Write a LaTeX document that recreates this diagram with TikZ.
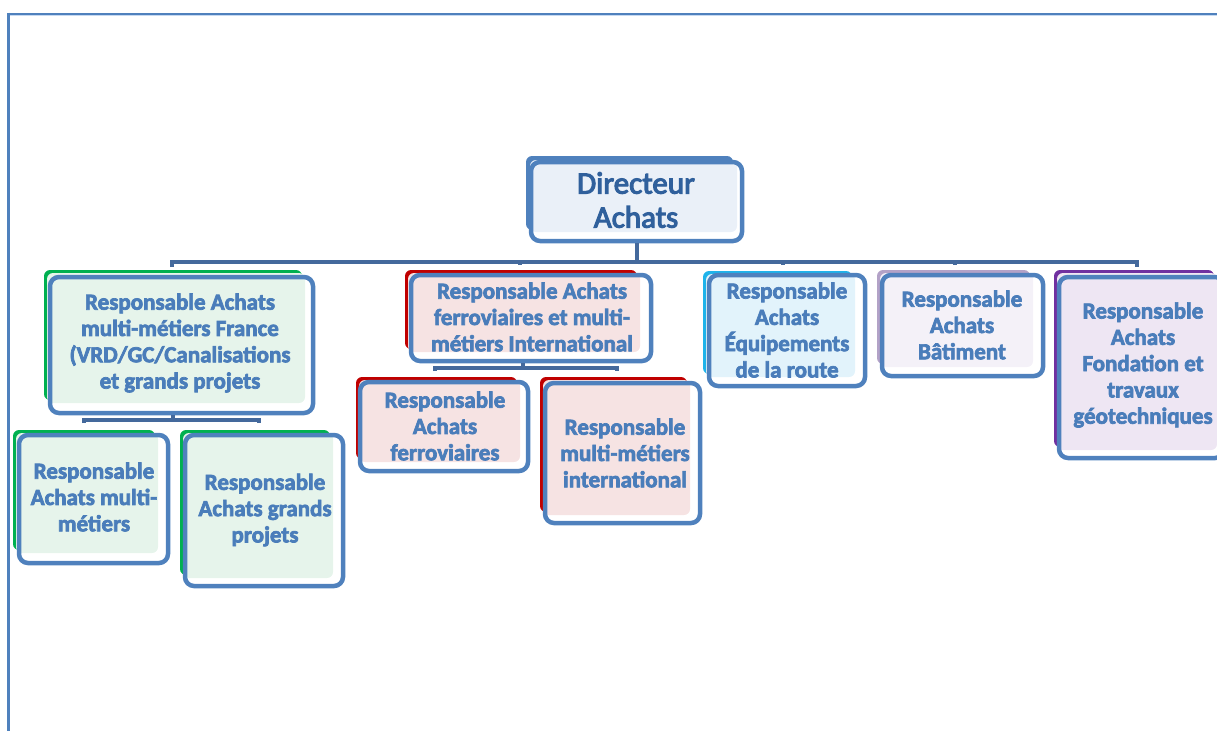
\documentclass[tikz,border=0pt]{standalone}
\usepackage{fontspec}
\setmainfont{Carlito}
\usetikzlibrary{fit}
\definecolor{OutBlue}{HTML}{4F81BD}
\definecolor{BusBlue}{HTML}{44699C}
\definecolor{TxtBlue}{HTML}{4A7DBA}
\definecolor{DirTxt}{HTML}{30609C}
\definecolor{GreenE}{HTML}{00B050}
\definecolor{GreenF}{HTML}{E6F4EB}
\definecolor{RedE}{HTML}{C00000}
\definecolor{RedF}{HTML}{F6E3E3}
\definecolor{CyanE}{HTML}{1FB3EA}
\definecolor{CyanF}{HTML}{E2F3FB}
\definecolor{LavE}{HTML}{B3A2C7}
\definecolor{LavF}{HTML}{F4F1F8}
\definecolor{PurE}{HTML}{7030A0}
\definecolor{PurF}{HTML}{EEE6F3}
\definecolor{DirF}{HTML}{EAF0F8}
\definecolor{FrameL}{HTML}{C6D9F1}
\begin{document}
\begin{tikzpicture}[x=1pt,y=-1pt,
 outl/.style={draw=OutBlue, line width=4.5pt, rounded corners=9pt, inner sep=0pt},
 heavy/.style={execute at begin node={\special{pdf:literal direct 2 Tr #1 w}},
               execute at end node={\special{pdf:literal direct 0 Tr}}},
 txt/.style={text=TxtBlue, font=\fontsize{23}{26.3}\selectfont\bfseries, align=center, inner sep=0pt, heavy=0.7},
 dtxt/.style={text=DirTxt, font=\fontsize{31}{34}\selectfont, align=center, inner sep=0pt, heavy=1.1},
 bus/.style={draw=BusBlue, line width=4pt},
 ef/.style={rounded corners=6pt}
]
\useasboundingbox (0,0) rectangle (1217,731);
% frame
\draw[FrameL, line width=1.5pt] (9,15.5) -- (1217,15.5);
\draw[OutBlue, line width=2pt] (7.5,13.5) -- (1217,13.5);
\draw[OutBlue, line width=2.5pt] (8.5,12.5) -- (8.5,731);

% Director
\fill[OutBlue, ef] (526,156) rectangle (733,230);
\fill[DirF, ef] (530,160) rectangle (737,232);
\node[outl, fit={(531,162) (742,241)}] (d) {};
\node[dtxt] (dt) at (636,200) {Directeur\\Achats};

% Box 1 (green)
\fill[GreenE, ef] (44,270) rectangle (302,400);
\fill[GreenF, ef] (47,273) rectangle (305,403);
\node[outl, fit={(50,277) (313,413)}] (b1) {};
\node[txt] (b1t) at (180,343) {Responsable Achats\\multi-métiers France\\(VRD/GC/Canalisations\\et grands projets};

% Box 1a
\fill[GreenE, ef] (13,430) rectangle (155,550);
\fill[GreenF, ef] (16,433) rectangle (158,553);
\node[outl, fit={(19,435) (168,563)}] (b1a) {};
\node[txt] (b1at) at (94,497) {Responsable\\Achats multi-\\métiers};

% Box 1b
\fill[GreenE, ef] (180,430) rectangle (330,575);
\fill[GreenF, ef] (183,433) rectangle (333,578);
\node[outl, fit={(185,435) (343,586)}] (b1b) {};
\node[txt] (b1bt) at (265,510) {Responsable\\Achats grands\\projets};

% Box 2 (red)
\fill[RedE, ef] (405,270) rectangle (637,349);
\fill[RedF, ef] (408,273) rectangle (640,352);
\node[outl, fit={(411,275) (651,361)}] (b2) {};
\node[txt] (b2t) at (532,317) {Responsable Achats\\ferroviaires et multi-\\métiers International};

% Box 2a
\fill[RedE, ef] (356,377) rectangle (517,459);
\fill[RedF, ef] (359,380) rectangle (520,462);
\node[outl, fit={(360,382) (528,471)}] (b2a) {};
\node[txt] (b2at) at (445,426) {Responsable\\Achats\\ferroviaires};

% Box 2b
\fill[RedE, ef] (540,377) rectangle (687,512);
\fill[RedF, ef] (543,380) rectangle (690,515);
\node[outl, fit={(545,383) (700,523)}] (b2b) {};
\node[txt] (b2bt) at (625,453) {Responsable\\multi-métiers\\international};

% Box 3 (cyan)
\fill[CyanE, ef] (703,271) rectangle (852,374);
\fill[CyanF, ef] (706,274) rectangle (855,377);
\node[outl, fit={(709,275) (865,386)}] (b3) {};
\node[txt] (b3t) at (787,330) {Responsable\\Achats\\Équipements\\de la route};

% Box 4 (lavender)
\fill[LavE, ef] (877,270) rectangle (1030,364);
\fill[LavF, ef] (880,273) rectangle (1033,367);
\node[outl, fit={(882,275) (1043,376)}] (b4) {};
\node[txt] (b4t) at (962,325) {Responsable\\Achats\\Bâtiment};

% Box 5 (purple)
\fill[PurE, ef] (1054,270) rectangle (1214,447);
\fill[PurF, ef] (1057,273) rectangle (1217,450);
\node[outl, fit={(1059,277) (1224,458)}] (b5) {};
\node[txt] (b5t) at (1143,365) {Responsable\\Achats\\Fondation et\\travaux\\géotechniques};

% main bus
\coordinate (busL) at (172,262);
\coordinate (busR) at (1137,262);
\draw[bus] (d.south) -- (d.south |- busL);
\draw[bus] ([yshift=-5pt]busL) -- (busL) -- (busR) -- ([yshift=-5pt]busR);
\draw[bus] (520,262) -- (520,265);
\draw[bus] (783,262) -- (783,265);
\draw[bus] (955,262) -- (955,265);

% sub bus 1
\coordinate (s1L) at (84,420);
\coordinate (s1M) at (173,420);
\coordinate (s1R) at (259,420);
\draw[bus] (b1.south -| s1M) -- (s1M);
\draw[bus] ([yshift=-3pt]s1L) -- (s1L) -- (s1R) -- ([yshift=-3pt]s1R);

% sub bus 2
\coordinate (s2L) at (435,368);
\coordinate (s2M) at (523,368);
\coordinate (s2R) at (617,368);
\draw[bus] (b2.south -| s2M) -- (s2M);
\draw[bus] ([yshift=-3pt]s2L) -- (s2L) -- (s2R) -- ([yshift=-3pt]s2R);
\end{tikzpicture}
\end{document}
